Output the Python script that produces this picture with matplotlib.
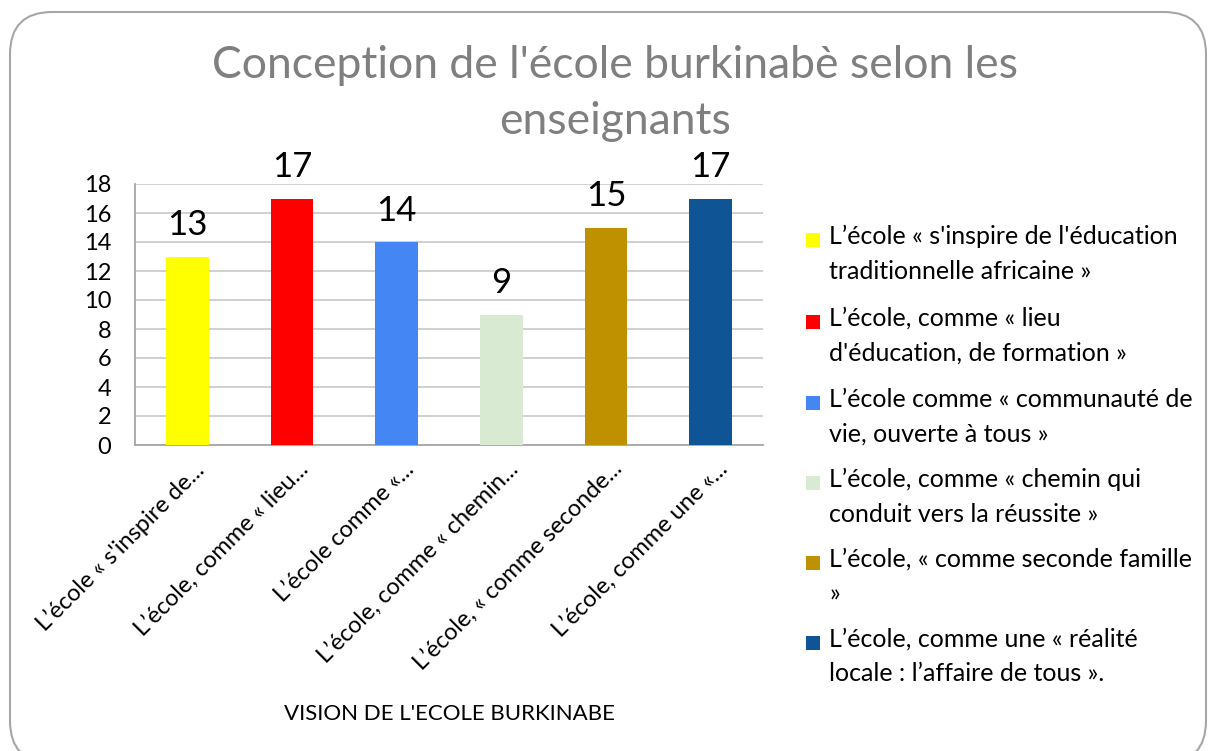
import matplotlib.pyplot as plt
from matplotlib.patches import FancyBboxPatch, Rectangle
import matplotlib.transforms as mtransforms

plt.rcParams['font.family'] = ['Lato', 'DejaVu Sans']

# Data
short_labels = ["L’école « s'inspire de...", "L’école, comme « lieu...", "L’école comme «...",
                "L’école, comme « chemin...", "L’école, « comme seconde...", "L’école, comme une «..."]
legend_labels = ["L’école « s'inspire de l'éducation\ntraditionnelle africaine »",
                 "L’école, comme « lieu\nd'éducation, de formation »",
                 "L’école comme « communauté de\nvie, ouverte à tous »",
                 "L’école, comme « chemin qui\nconduit vers la réussite »",
                 "L’école, « comme seconde famille\n»",
                 "L’école, comme une « réalité\nlocale : l’affaire de tous »."]
values = [13, 17, 14, 9, 15, 17]
colors = ["#FFFF00", "#FF0000", "#4486F4", "#D9EAD3", "#BF9000", "#0F5495"]

W, H = 1208, 751
fig = plt.figure(figsize=(W / 100, H / 100), dpi=100)

# rounded frame
frame = FancyBboxPatch((10 / W, -12 / H), 1196 / W, (H - 12 + 12) / H,
                       boxstyle="round,pad=0,rounding_size=0.035", mutation_aspect=W / H,
                       transform=fig.transFigure, facecolor="none", edgecolor="#a6a6a6",
                       lw=1.5, zorder=-1)
fig.patches.append(frame)

ax = fig.add_axes([135 / W, 1 - 445 / H, (763 - 135) / W, (445 - 184) / H])
x = range(len(values))
bars = ax.bar(x, values, width=0.41, color=colors, zorder=3)
ax.set_xlim(-0.5, len(values) - 0.5)
ax.set_ylim(0, 18)
ax.set_yticks(range(0, 19, 2))
ax.yaxis.grid(True, color="#c8c8c8", lw=1.2, zorder=0)
ax.set_facecolor("none")
for s in ["top", "right"]:
    ax.spines[s].set_visible(False)
for s in ["left", "bottom"]:
    ax.spines[s].set_color("#a6a6a6")
    ax.spines[s].set_linewidth(1.3)
ax.tick_params(axis="y", length=0, labelsize=17, pad=17)
ax.tick_params(axis="x", length=0, pad=8)
ax.set_xticks(list(x))
ax.set_xticklabels(short_labels, rotation=45, ha="right", va="center",
                   rotation_mode="anchor", fontsize=17)
offset = mtransforms.ScaledTranslation(0.14, -0.10, fig.dpi_scale_trans)
for lab in ax.get_xticklabels():
    lab.set_transform(lab.get_transform() + offset)

for b, v in zip(bars, values):
    ax.text(b.get_x() + b.get_width() / 2, v + 1.05, str(v), ha="center", va="bottom", fontsize=25)

fig.text(615 / W, 1 - 65 / H, "Conception de l'école burkinabè selon les", ha="center", va="center",
         fontsize=32, color="#7f7f7f")
fig.text(615 / W, 1 - 122 / H, "enseignants", ha="center", va="center", fontsize=32, color="#7f7f7f")
fig.text(449 / W, 1 - 714 / H, "VISION DE L'ECOLE BURKINABE", ha="center", va="center", fontsize=16)

# legend
ys = [240, 322, 403, 483, 563, 643]
for lab, col, y in zip(legend_labels, colors, ys):
    fig.patches.append(Rectangle((806 / W, 1 - (y + 7) / H), 14 / W, 14 / H,
                                 transform=fig.transFigure, facecolor=col, edgecolor="none"))
    fig.text(829 / W, 1 - (y - 15) / H, lab, ha="left", va="top", fontsize=18, linespacing=1.6)

fig.savefig("out.png", dpi=100)
